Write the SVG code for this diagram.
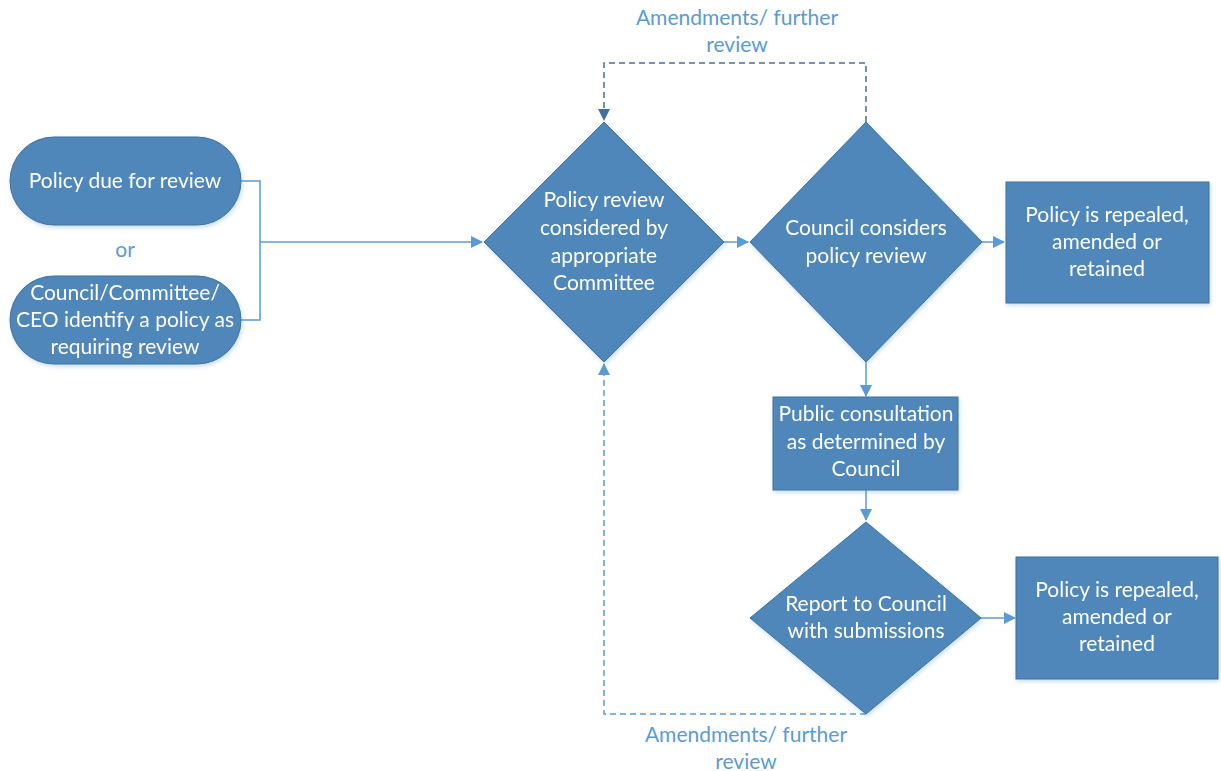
<svg xmlns="http://www.w3.org/2000/svg" width="1221" height="771" viewBox="0 0 1221 771">
<style>
.node{fill:#4F87BA;stroke:#41719C;stroke-width:1}
.t{font-family:Lato,"Liberation Sans",sans-serif;font-size:21px;fill:#ffffff;text-anchor:middle}
.lbl{font-family:Lato,"Liberation Sans",sans-serif;font-size:21px;fill:#5B9BD5;text-anchor:middle}
.c{fill:none;stroke:#5B9BD5;stroke-width:1.5}
.d{fill:none;stroke:#5B9BD5;stroke-width:1.5;stroke-dasharray:6,4}
.dk{fill:none;stroke:#41719C;stroke-width:1.5;stroke-dasharray:6,4}
</style>
<defs>
<marker id="a" markerWidth="12" markerHeight="12" refX="11" refY="6" orient="auto" markerUnits="userSpaceOnUse"><path d="M0,0 L12,6 L0,12 z" fill="#5B9BD5"/></marker>
<marker id="ad" markerWidth="12" markerHeight="12" refX="11" refY="6" orient="auto" markerUnits="userSpaceOnUse"><path d="M0,0 L12,6 L0,12 z" fill="#41719C"/></marker>
<filter id="sh" x="-10%" y="-10%" width="130%" height="130%"><feDropShadow dx="1" dy="2" stdDeviation="2" flood-color="#5B9BD5" flood-opacity="0.35"/></filter>
</defs>
<rect width="1221" height="771" fill="#ffffff"/>
<g id="connectors">
<path class="c" d="M241,181 H260 V320 H241"/>
<path class="c" d="M260,242 H482" marker-end="url(#a)"/>
<path class="c" d="M724,242 H748" marker-end="url(#a)"/>
<path class="c" d="M982,242 H1004" marker-end="url(#a)"/>
<path class="c" d="M866,362 V396" marker-end="url(#a)"/>
<path class="c" d="M866,490 V520" marker-end="url(#a)"/>
<path class="c" d="M981,618 H1015" marker-end="url(#a)"/>
<path class="dk" d="M866,122 V63 H604 V120" marker-end="url(#ad)"/>
<path class="d" d="M866,714 H604 V364" marker-end="url(#a)"/>
<text class="lbl" x="737" y="25">Amendments/ further</text>
<text class="lbl" x="737" y="52">review</text>
<text class="lbl" x="746" y="742">Amendments/ further</text>
<text class="lbl" x="746" y="769">review</text>
<text class="lbl" x="125" y="257">or</text>
</g>
<g id="n1" filter="url(#sh)">
<rect class="node" x="10" y="137" width="231" height="88" rx="44"/>
<text class="t" x="125" y="188">Policy due for review</text>
</g>
<g id="n2" filter="url(#sh)">
<rect class="node" x="10" y="276" width="231" height="88" rx="44"/>
<text class="t" x="125" y="300">Council/Committee/</text>
<text class="t" x="125" y="327">CEO identify a policy as</text>
<text class="t" x="125" y="354">requiring review</text>
</g>
<g id="n3" filter="url(#sh)">
<polygon class="node" points="604,122 724,242 604,362 484,242"/>
<text class="t" x="604" y="207">Policy review</text>
<text class="t" x="604" y="235">considered by</text>
<text class="t" x="604" y="263">appropriate</text>
<text class="t" x="604" y="290">Committee</text>
</g>
<g id="n4" filter="url(#sh)">
<polygon class="node" points="866,122 982,242 866,362 750,242"/>
<text class="t" x="866" y="235">Council considers</text>
<text class="t" x="866" y="263">policy review</text>
</g>
<g id="n5" filter="url(#sh)">
<rect class="node" x="1006" y="182" width="203" height="121"/>
<text class="t" x="1107" y="222">Policy is repealed,</text>
<text class="t" x="1107" y="249">amended or</text>
<text class="t" x="1107" y="276">retained</text>
</g>
<g id="n6" filter="url(#sh)">
<rect class="node" x="773" y="397" width="185" height="93"/>
<text class="t" x="866" y="421">Public consultation</text>
<text class="t" x="866" y="449">as determined by</text>
<text class="t" x="866" y="476">Council</text>
</g>
<g id="n7" filter="url(#sh)">
<polygon class="node" points="866,522 981,618 866,714 750,618"/>
<text class="t" x="866" y="611">Report to Council</text>
<text class="t" x="866" y="638">with submissions</text>
</g>
<g id="n8" filter="url(#sh)">
<rect class="node" x="1016" y="557" width="202" height="122"/>
<text class="t" x="1117" y="597">Policy is repealed,</text>
<text class="t" x="1117" y="624">amended or</text>
<text class="t" x="1117" y="651">retained</text>
</g>
</svg>
